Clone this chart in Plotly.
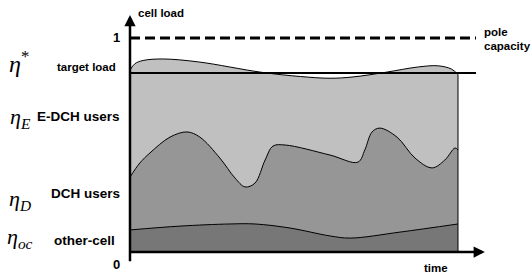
import plotly.graph_objects as go

# ---- data (time in 0..100 units, load relative to pole capacity) ----
pole_capacity = 1.0
target_load = 0.836

time_total = [0, 1.5, 4, 10, 21, 40, 52, 61, 68, 78, 88, 94, 98, 100]
load_total = [0.85, 0.88, 0.895, 0.902, 0.888, 0.84, 0.82, 0.812, 0.818, 0.84, 0.865, 0.87, 0.855, 0.83]

time_dch = [0, 3, 6.1, 12.2, 17.4, 21.3, 27.4, 32, 35.1, 38.1, 41.2, 43.6, 47.3, 61, 69.5, 71.6,
            73.8, 76.2, 81.4, 86.9, 92.1, 96, 99.1, 100]
load_dch = [0.35, 0.416, 0.463, 0.537, 0.561, 0.537, 0.439, 0.346, 0.304, 0.322, 0.43, 0.495,
            0.50, 0.453, 0.42, 0.477, 0.561, 0.579, 0.537, 0.439, 0.393, 0.43, 0.486, 0.477]

time_oc = [0, 15.2, 30.5, 38.1, 48.8, 61, 67.1, 82.3, 100]
load_oc = [0.103, 0.121, 0.131, 0.131, 0.112, 0.075, 0.065, 0.093, 0.131]

W, H = 531, 273
# axis ranges chosen so the chart fills the canvas (margins are zero)
x_range = [-39.63, 122.26]
y_range = [-0.0981, 1.1776]

LABEL_FONT = "Liberation Sans, Arial, sans-serif"
GREEK_FONT = "Liberation Serif, Times New Roman, serif"

fig = go.Figure()
fig.add_trace(go.Scatter(x=time_total, y=load_total, mode="lines", fill="tozeroy",
                         fillcolor="#C0C0C0", line=dict(color="black", width=1, shape="spline", smoothing=1)))
fig.add_trace(go.Scatter(x=time_dch, y=load_dch, mode="lines", fill="tozeroy",
                         fillcolor="#969696", line=dict(color="black", width=1, shape="spline", smoothing=1)))
fig.add_trace(go.Scatter(x=time_oc, y=load_oc, mode="lines", fill="tozeroy",
                         fillcolor="#777777", line=dict(color="black", width=1, shape="spline", smoothing=1)))

t_end = time_total[-1]
shapes = [
    dict(type="line", x0=t_end, x1=t_end, y0=0, y1=load_total[-1], line=dict(color="black", width=1)),
    dict(type="line", x0=0, x1=105.5, y0=target_load, y1=target_load, line=dict(color="black", width=2)),
    dict(type="line", x0=0, x1=105.5, y0=pole_capacity, y1=pole_capacity,
         line=dict(color="black", width=3, dash="10px,5px")),
]

annotations = [
    dict(x=0, y=1.107, ax=0, ay=-0.05, xref="x", yref="y", axref="x", ayref="y",
         showarrow=True, arrowhead=2, arrowsize=0.9, arrowwidth=2.5, arrowcolor="black", text=""),
    dict(x=108.2, y=0, ax=-0.6, ay=0, xref="x", yref="y", axref="x", ayref="y",
         showarrow=True, arrowhead=2, arrowsize=0.9, arrowwidth=2.5, arrowcolor="black", text=""),
]

def txt(px, py, s, size, family=LABEL_FONT, xanchor="center"):
    annotations.append(dict(x=px / W, y=1 - py / H, xref="paper", yref="paper", text=s,
                            showarrow=False, xanchor=xanchor, yanchor="middle",
                            font=dict(family=family, size=size, color="black")))

txt(161, 13, "<b>cell load</b>", 11.5)
txt(116, 38, "<b>1</b>", 13)
txt(116, 264, "<b>0</b>", 13)
txt(436, 268, "<b>time</b>", 11.5)
txt(482, 32, "<b>pole</b>", 11.5, xanchor="left")
txt(482, 46, "<b>capacity</b>", 11.5, xanchor="left")

txt(86, 67, "<b>target load</b>", 11.5)
txt(78, 116, "<b>E-DCH users</b>", 13.5)
txt(85, 193, "<b>DCH users</b>", 13.5)
txt(84, 240, "<b>other-cell</b>", 13.5)

txt(19, 62, "<i>η</i><sup>*</sup>", 24, GREEK_FONT)
txt(20, 118, "<i>η<sub>E</sub></i>", 22, GREEK_FONT)
txt(20, 200, "<i>η<sub>D</sub></i>", 22, GREEK_FONT)
txt(20, 238, "<i>η<sub>oc</sub></i>", 22, GREEK_FONT)

fig.update_layout(
    width=W, height=H, autosize=False,
    margin=dict(l=0, r=0, t=0, b=0),
    paper_bgcolor="white", plot_bgcolor="white",
    showlegend=False,
    xaxis=dict(range=x_range, visible=False, fixedrange=True),
    yaxis=dict(range=y_range, visible=False, fixedrange=True),
    shapes=shapes, annotations=annotations,
)

fig.write_html("out.html", config={"displayModeBar": False},
               post_script="document.body.style.margin='0px';document.body.style.padding='0px';")
